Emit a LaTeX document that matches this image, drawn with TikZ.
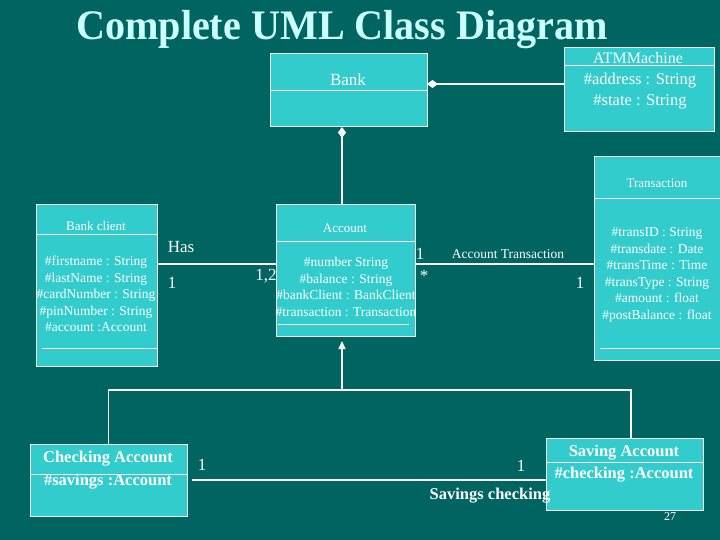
\documentclass[tikz,border=0pt]{standalone}
\usepackage{fontspec}
\setmainfont{Liberation Serif}
\usetikzlibrary{arrows.meta}
\definecolor{bg}{RGB}{0,100,96}
\definecolor{boxfill}{RGB}{51,204,204}
\definecolor{titlec}{RGB}{204,255,255}
\tikzset{
  cls/.style={draw=white, line width=1pt, fill=boxfill, inner sep=0pt, outer sep=0pt, anchor=north west},
  txt/.style={text=white, inner sep=0pt, align=center},
  attr/.style={txt, font=\fontsize{13.5}{16.6}\selectfont},
  head/.style={txt, font=\fontsize{13}{15}\selectfont},
  big/.style={txt, font=\fontsize{17}{20}\selectfont},
  bigb/.style={txt, font=\bfseries\fontsize{16.5}{20}\selectfont},
  conn/.style={draw=white, line width=1.4pt},
  sep/.style={draw=white, line width=0.9pt},
  dia/.style={{Diamond[length=11pt,width=8pt,fill=white]}-},
}
\begin{document}
\begin{tikzpicture}[x=1pt,y=-1pt]
\fill[bg] (0,0) rectangle (720,540);
\useasboundingbox (0,0) rectangle (720,540);
% title
\node[txt, text=titlec, font=\bfseries\fontsize{42}{44}\selectfont, xscale=0.955] (title) at (342,30) {Complete UML Class Diagram};
% boxes
\node[cls, minimum width=157, minimum height=73] (bank) at (270,54) {};
\node[cls, minimum width=150, minimum height=84] (atm) at (564,48) {};
\node[cls, minimum width=121, minimum height=161] (client) at (36,205) {};
\node[cls, minimum width=139, minimum height=131] (account) at (276,205) {};
\node[cls, minimum width=135, minimum height=203] (trans) at (594,157) {};
\node[cls, minimum width=157, minimum height=72] (checking) at (30,444) {};
\node[cls, minimum width=157, minimum height=72] (saving) at (546,438) {};
% dividers
\draw[sep] (270,90) -- (427,90);
\draw[sep] (564,65) -- (714,65);
\draw[sep] (36,234) -- (157,234);
\draw[sep] (42,348) -- (157,348);
\draw[sep] (276,241) -- (415,241);
\draw[sep] (278,324) -- (409,324);
\draw[sep] (594,198) -- (729,198);
\draw[sep] (600,348) -- (729,348);
\draw[sep] (30,474) -- (187,474);
\draw[sep] (546,462) -- (703,462);
% box texts
\node[big] (tbank) at (348,80) {Bank};
\node[big, font=\fontsize{16}{20}\selectfont] (tatm) at (638,58) {ATMMachine};
\node[big, font=\fontsize{16.5}{21}\selectfont] (tatma) at (640,91) {\#address : String\\\#state : String};
\node[head] (tclient) at (96,226) {Bank client};
\node[attr] (tclienta) at (96,294) {\#firstname : String\\\#lastName : String\\\#cardNumber : String\\\#pinNumber : String\\\#account :Account};
\node[head] (taccount) at (345,228) {Account};
\node[attr] (taccounta) at (346,287) {\#number String\\\#balance : String\\\#bankClient : BankClient\\\#transaction : Transaction};
\node[head] (ttrans) at (657,183) {Transaction};
\node[attr] (ttransa) at (657,275) {\#transID : String\\\#transdate : Date\\\#transTime : Time\\\#transType : String\\\#amount : float\\\#postBalance : float};
\node[bigb] (tcheck) at (108,459) {Checking Account};
\node[bigb] (tchecka) at (108,482) {\#savings :Account};
\node[bigb] (tsave) at (624,453) {Saving Account};
\node[bigb] (tsavea) at (624,475) {\#checking :Account};
% connectors
\draw[conn, dia] ([yshift=6.5pt]bank.east) -- ([yshift=6pt]atm.west);
\draw[conn, dia] ([xshift=-6.5pt]bank.south) -- ([xshift=-3.5pt]account.north);
\draw[conn] ([yshift=21.5pt]client.east) -- ([yshift=6.5pt]account.west);
\draw[conn] ([yshift=6.5pt]account.east) -- ([yshift=-5.5pt]trans.west);
\coordinate (junc) at (342,390);
\draw[conn] (checking.north) |- (junc) -| ([xshift=6.5pt]saving.north);
\draw[conn, -{Triangle[length=8pt,width=7pt]}, shorten >=5pt] (junc) -- ([xshift=-3.5pt]account.south);
\draw[conn, shorten <=5pt] (checking.east) -- ([yshift=-6pt]saving.west);
% labels
\node[big] (lhas) at (181,247) {Has};
\node[big] (l1a) at (172,283) {1};
\node[big] (l12) at (266,276) {1,2};
\node[big] (l1b) at (420,254) {1};
\node[big] (lstar) at (424,276) {*};
\node[head, font=\fontsize{13.5}{16}\selectfont] (lat) at (508,254) {Account Transaction};
\node[big] (l1c) at (580,283) {1};
\node[big] (l1d) at (202,465) {1};
\node[big] (l1e) at (521,466) {1};
\node[bigb] (lsc) at (490,496) {Savings checking};
\node[txt, font=\fontsize{12}{14}\selectfont] (pg) at (670,517) {27};
\end{tikzpicture}
\end{document}
